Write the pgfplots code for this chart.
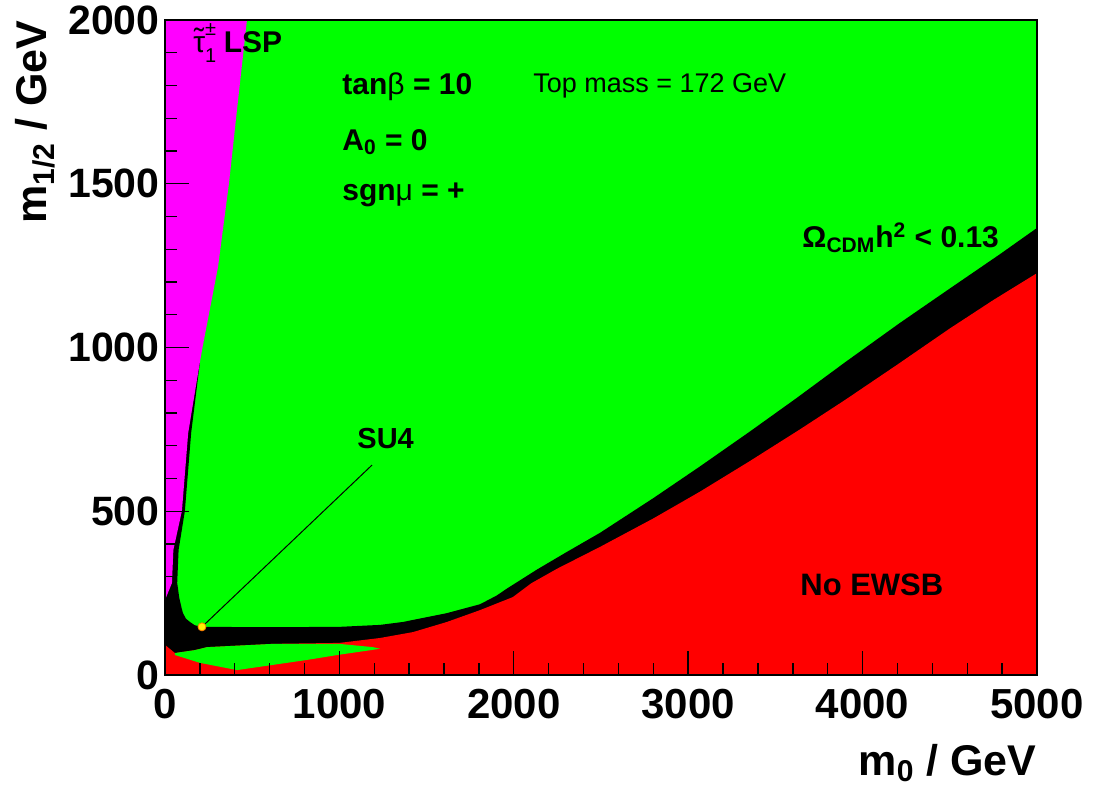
\documentclass[border=0pt]{standalone}
\usepackage{fontspec}
\setmainfont{Liberation Sans}
\usepackage{pgfplots}
\pgfplotsset{compat=1.18}
\definecolor{cgreen}{RGB}{0,255,0}
\definecolor{cmag}{RGB}{255,0,255}
\definecolor{cred}{RGB}{255,0,0}
\begin{document}
\begin{tikzpicture}
\path[use as bounding box] (-82.5pt,-56.5pt) rectangle (464.5pt,337.5pt);
\begin{axis}[
  at={(0,0)}, anchor=south west,
  width=436pt, height=327.5pt, scale only axis,
  xmin=0, xmax=5000, ymin=0, ymax=2000,
  axis on top,
  tick pos=left, tick align=inside,
  xtick={0,1000,2000,3000,4000,5000},
  ytick={0,500,1000,1500,2000},
  minor x tick num=4, minor y tick num=4,
  major tick length=12pt, minor tick length=6pt,
  tick style={black, line width=0.7pt},
  axis line style={line width=0.6pt},
  scaled ticks=false,
  /pgf/number format/assume math mode=true,
  /pgf/number format/1000 sep={},
  xticklabel style={font=\fontsize{21}{21}\selectfont\bfseries, inner sep=0pt, yshift=-7pt},
  yticklabel style={font=\fontsize{20.5}{20.5}\selectfont\bfseries, inner sep=0pt, xshift=-2.5pt},
  xlabel={m\textsubscript{0} / GeV},
  xlabel style={font=\fontsize{21.5}{21.5}\selectfont\bfseries, at={(axis description cs:1,0)}, anchor=base east, yshift=-50pt, inner sep=0pt},
  ylabel={m\textsubscript{1/2} / GeV},
  ylabel style={font=\fontsize{21.5}{21.5}\selectfont\bfseries, at={(axis description cs:-0.149,1)}, anchor=east, rotate=0, inner sep=0pt},
]
% background allowed region
\addplot[draw=none, fill=cgreen] coordinates {(0,0) (5000,0) (5000,2000) (0,2000)} -- cycle;
% black (co-annihilation / focus point band)
\addplot[draw=none, fill=black] coordinates {
 (0,0) (0,960) (200,960) (200,953) (150,739) (114,501) (78,382) (70,281) (82,235)
 (95,205) (103,189) (120,172) (143,162) (170,152) (212,147) (600,146) (1000,147)
 (1233,153) (1365,162) (1617,189) (1806,216) (1900,242) (1961,264) (2133,322)
 (2305,376) (2494,434) (2800,540) (3068,637) (3350,742) (3620,845) (3900,955)
 (4214,1075) (4500,1180) (4788,1285) (5000,1365) (5000,0)} -- cycle;
% stau LSP region
\addplot[draw=none, fill=cmag] coordinates {
 (0,2000) (470,2000) (419,1756) (367,1502) (304,1246) (215,1000) (200,955)
 (133,739) (97,501) (48,382) (40,281) (0,229)} -- cycle;
% no EWSB region
\addplot[draw=none, fill=cred] coordinates {
 (0,0) (0,92) (57,67) (172,76) (241,85) (619,95) (1000,98) (1233,113) (1422,131)
 (1617,162) (1806,198) (1995,238) (2100,280) (2250,325) (2494,391) (2800,478)
 (3068,560) (3350,652) (3641,750) (3900,840) (4200,948) (4500,1058) (4750,1145)
 (5000,1227) (5000,0)} -- cycle;
% green sliver
\addplot[draw=none, fill=cgreen] coordinates {
 (57,67) (172,76) (241,85) (619,95) (1000,95) (1193,85) (1233,80) (1000,62)
 (814,46) (413,15) (201,37) (57,61)} -- cycle;
% SU4 marker
\addplot[black, line width=0.5pt] coordinates {(212,147) (1187,641)};
\addplot[only marks, mark=*, mark size=2pt, mark options={fill=yellow, draw=orange}] coordinates {(212,147)};
% labels
\node[inner sep=0pt, anchor=base west, font=\fontsize{14.5}{14.5}\selectfont\bfseries] at (axis cs:1101,693) {SU4};
\node[inner sep=0pt, anchor=base west, font=\fontsize{15}{15}\selectfont\bfseries] at (axis cs:1015,1771) {tan\textnormal{β} = 10};
\node[inner sep=0pt, anchor=base west, font=\fontsize{15}{15}\selectfont\bfseries] at (axis cs:1015,1603) {A\textsubscript{0} = 0};
\node[inner sep=0pt, anchor=base west, font=\fontsize{15}{15}\selectfont\bfseries] at (axis cs:1015,1450) {sgn\textnormal{μ} = +};
\node[inner sep=0pt, anchor=base west, font=\fontsize{13.5}{13.5}\selectfont] at (axis cs:2110,1780) {Top mass = 172 GeV};
\node[inner sep=0pt, anchor=base west, font=\fontsize{15}{15}\selectfont\bfseries] at (axis cs:3653,1304) {Ω\textsubscript{CDM}h\textsuperscript{2} < 0.13};
\node[inner sep=0pt, anchor=base west, font=\fontsize{15.5}{15.5}\selectfont\bfseries] at (axis cs:3641,244) {No EWSB};
\node[inner sep=0pt, anchor=base west, font=\fontsize{15}{15}\selectfont\bfseries] at (axis cs:160,1902) {\ooalign{\textnormal{τ}\cr\hidewidth\raisebox{0.1em}{\textnormal{˜}}\hidewidth\cr}\rlap{\raisebox{0.55em}{\fontsize{10}{10}\selectfont\textnormal{±}}}\raisebox{-0.35em}{\fontsize{10}{10}\selectfont\textnormal{1}}\hspace{0.25em}LSP};
\end{axis}
\end{tikzpicture}
\end{document}
